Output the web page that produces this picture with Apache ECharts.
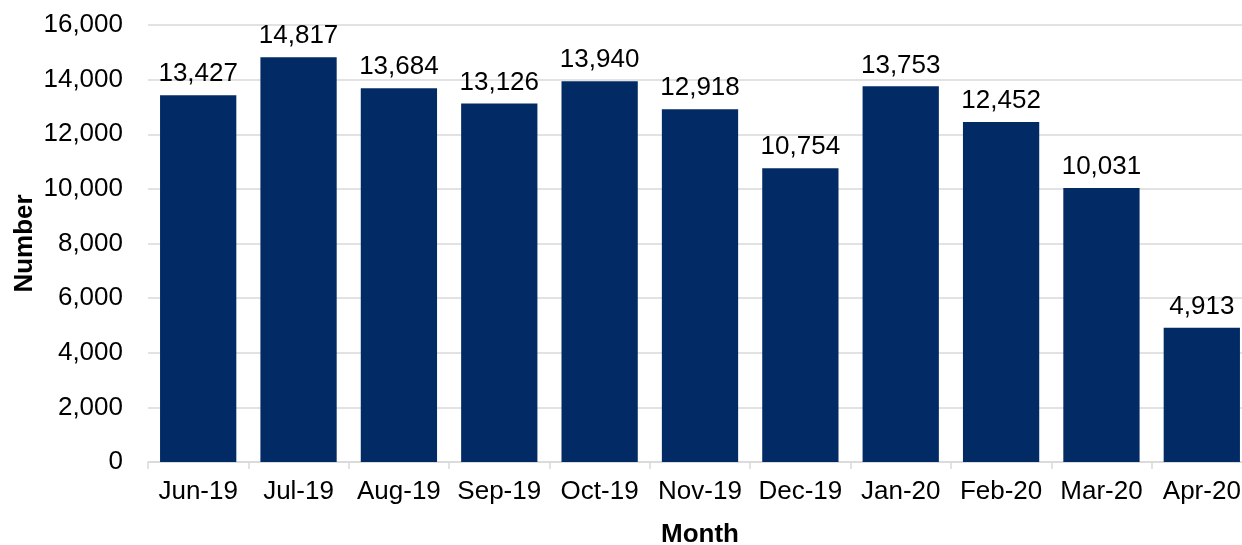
<!DOCTYPE html>
<html>
<head>
<meta charset="utf-8">
<script src="https://cdn.jsdelivr.net/npm/echarts@6/dist/echarts.min.js"></script>
<style>
html,body{margin:0;padding:0;background:#fff;}
#chart{width:1242px;height:545px;}
</style>
</head>
<body>
<div id="chart"></div>
<script>
const categories = ['Jun-19','Jul-19','Aug-19','Sep-19','Oct-19','Nov-19','Dec-19','Jan-20','Feb-20','Mar-20','Apr-20'];
const values = [13427,14817,13684,13126,13940,12918,10754,13753,12452,10031,4913];
const yTicks = {min:0, max:16000, interval:2000};

const chart = echarts.init(document.getElementById('chart'));
const font = 'Liberation Sans, Arial, sans-serif';
chart.setOption({
  animation:false,
  grid:{left:148, top:25, right:-10, bottom:83, containLabel:false, outerBoundsMode:'none'},
  xAxis:{
    type:'category', data:categories,
    name:'Month', nameLocation:'middle', nameGap:60,
    nameTextStyle:{fontFamily:font, fontSize:26, fontWeight:'bold', color:'#000'},
    axisLine:{lineStyle:{color:'#d9d9d9', width:1.5}},
    axisTick:{show:true, alignWithLabel:false, length:7, lineStyle:{color:'#d9d9d9', width:1.5}},
    axisLabel:{interval:0, fontFamily:font, fontSize:26, color:'#000', margin:17}
  },
  yAxis:{
    type:'value', min:yTicks.min, max:yTicks.max, interval:yTicks.interval,
    name:'Number', nameLocation:'middle', nameGap:110, nameRotate:90, nameMoveOverlap:false,
    nameTextStyle:{fontFamily:font, fontSize:26, fontWeight:'bold', color:'#000'},
    axisLine:{show:false}, axisTick:{show:false},
    splitLine:{lineStyle:{color:'#d9d9d9', width:1.5}},
    axisLabel:{fontFamily:font, fontSize:26, color:'#000', margin:25,
      formatter:v=>v.toLocaleString('en-US')}
  },
  series:[{
    type:'bar', data:values, barCategoryGap:'24%',
    itemStyle:{color:'#022b66'},
    label:{show:true, position:'top', distance:8, fontFamily:font, fontSize:26, color:'#000',
      formatter:p=>p.value.toLocaleString('en-US')}
  }]
});
</script>
</body>
</html>
